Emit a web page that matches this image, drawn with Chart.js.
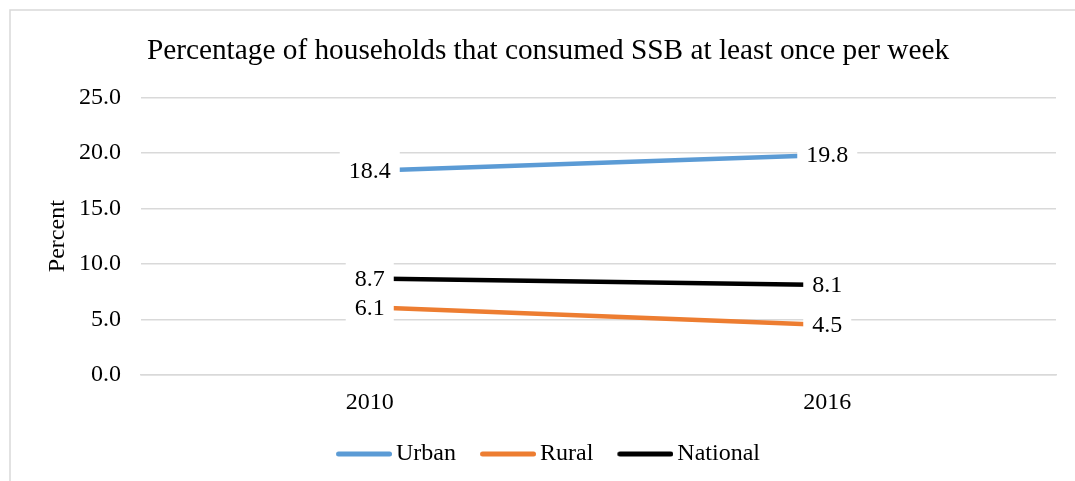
<!DOCTYPE html>
<html>
<head>
<meta charset="utf-8">
<script src="https://cdn.jsdelivr.net/npm/chart.js@4.4.1/dist/chart.umd.min.js"></script>
<style>
  html, body { margin: 0; padding: 0; background: #fff; }
  #wrap { width: 1075px; height: 481px; }
</style>
</head>
<body>
<div id="wrap"><canvas id="ssb" width="1075" height="481"></canvas></div>
<script>
const years = ['2010', '2016'];
const urban = [18.4, 19.8];
const rural = [6.1, 4.5];
const national = [8.7, 8.1];
const seriesNames = ['Urban', 'Rural', 'National'];
const seriesColors = ['#5B9BD5', '#ED7D31', '#000000'];

const SERIF = "'Liberation Serif', 'Times New Roman', serif";

// short rounded line used as the legend key; drawn in the right part of
// the image so it sits close to the legend text
function legendKey(color) {
  const c = document.createElement('canvas');
  c.width = 64;
  c.height = 6;
  const g = c.getContext('2d');
  g.strokeStyle = color;
  g.lineWidth = 5;
  g.lineCap = 'round';
  g.beginPath();
  g.moveTo(10.5, 3);
  g.lineTo(61.5, 3);
  g.stroke();
  return c;
}

// outer frame of the chart object
const frame = {
  id: 'frame',
  beforeDraw(chart) {
    const ctx = chart.ctx;
    ctx.save();
    ctx.fillStyle = '#fff';
    ctx.fillRect(0, 0, chart.width, chart.height);
    ctx.strokeStyle = '#d9d9d9';
    ctx.lineWidth = 1.5;
    ctx.strokeRect(10, 10, 1200, 1200);
    ctx.restore();
  }
};

// value labels centred on each point, on a white box
const valueLabels = {
  id: 'valueLabels',
  afterDatasetsDraw(chart) {
    const ctx = chart.ctx;
    ctx.save();
    ctx.font = '24px ' + SERIF;
    ctx.textAlign = 'center';
    ctx.textBaseline = 'middle';
    chart.data.datasets.forEach((ds, di) => {
      chart.getDatasetMeta(di).data.forEach((pt, i) => {
        const txt = ds.data[i].toFixed(1);
        const w = ctx.measureText(txt).width + 18;
        ctx.fillStyle = '#fff';
        ctx.fillRect(pt.x - w / 2, pt.y - 20, w, 34);
        ctx.fillStyle = '#000';
        ctx.fillText(txt, pt.x, pt.y + 1);
      });
    });
    ctx.restore();
  }
};

new Chart(document.getElementById('ssb'), {
  type: 'line',
  data: {
    labels: years,
    datasets: [urban, rural, national].map((vals, i) => ({
      label: seriesNames[i],
      data: vals,
      borderColor: seriesColors[i],
      backgroundColor: seriesColors[i],
      borderWidth: 4.5,
      pointRadius: 0,
      tension: 0
    }))
  },
  options: {
    responsive: false,
    animation: false,
    layout: { padding: { left: 40, right: 19, top: 0, bottom: 5 } },
    plugins: {
      title: {
        display: true,
        text: 'Percentage of households that consumed SSB at least once per week',
        color: '#000',
        font: { family: SERIF, size: 29.3, weight: 'normal' },
        padding: { top: 34, bottom: 28.2 }
      },
      legend: {
        position: 'bottom',
        labels: {
          color: '#000',
          font: { family: SERIF, size: 24 },
          usePointStyle: true,
          pointStyleWidth: 48,
          padding: 24,
          generateLabels: chart => chart.data.datasets.map((ds, i) => ({
            text: ds.label,
            pointStyle: legendKey(ds.borderColor),
            fillStyle: ds.borderColor,
            strokeStyle: ds.borderColor,
            lineWidth: 0,
            fontColor: '#000',
            hidden: false,
            datasetIndex: i
          }))
        }
      },
      tooltip: { enabled: false }
    },
    scales: {
      x: {
        offset: true,
        grid: { display: false },
        border: { color: '#d9d9d9', width: 1.5 },
        ticks: { color: '#000', font: { family: SERIF, size: 24 }, padding: 5 },
        afterFit: s => { s.height = 43; }
      },
      y: {
        min: 0,
        max: 25,
        border: { display: false },
        grid: { color: '#d9d9d9', lineWidth: 1.5, drawTicks: false },
        ticks: {
          stepSize: 5,
          color: '#000',
          padding: 20,
          font: { family: SERIF, size: 24 },
          callback: v => v.toFixed(1)
        },
        title: {
          display: true,
          text: 'Percent',
          color: '#000',
          font: { family: SERIF, size: 24 },
          padding: { top: 3, bottom: 0 }
        },
        afterFit: s => { s.width = 101; }
      }
    }
  },
  plugins: [frame, valueLabels]
});
</script>
</body>
</html>
